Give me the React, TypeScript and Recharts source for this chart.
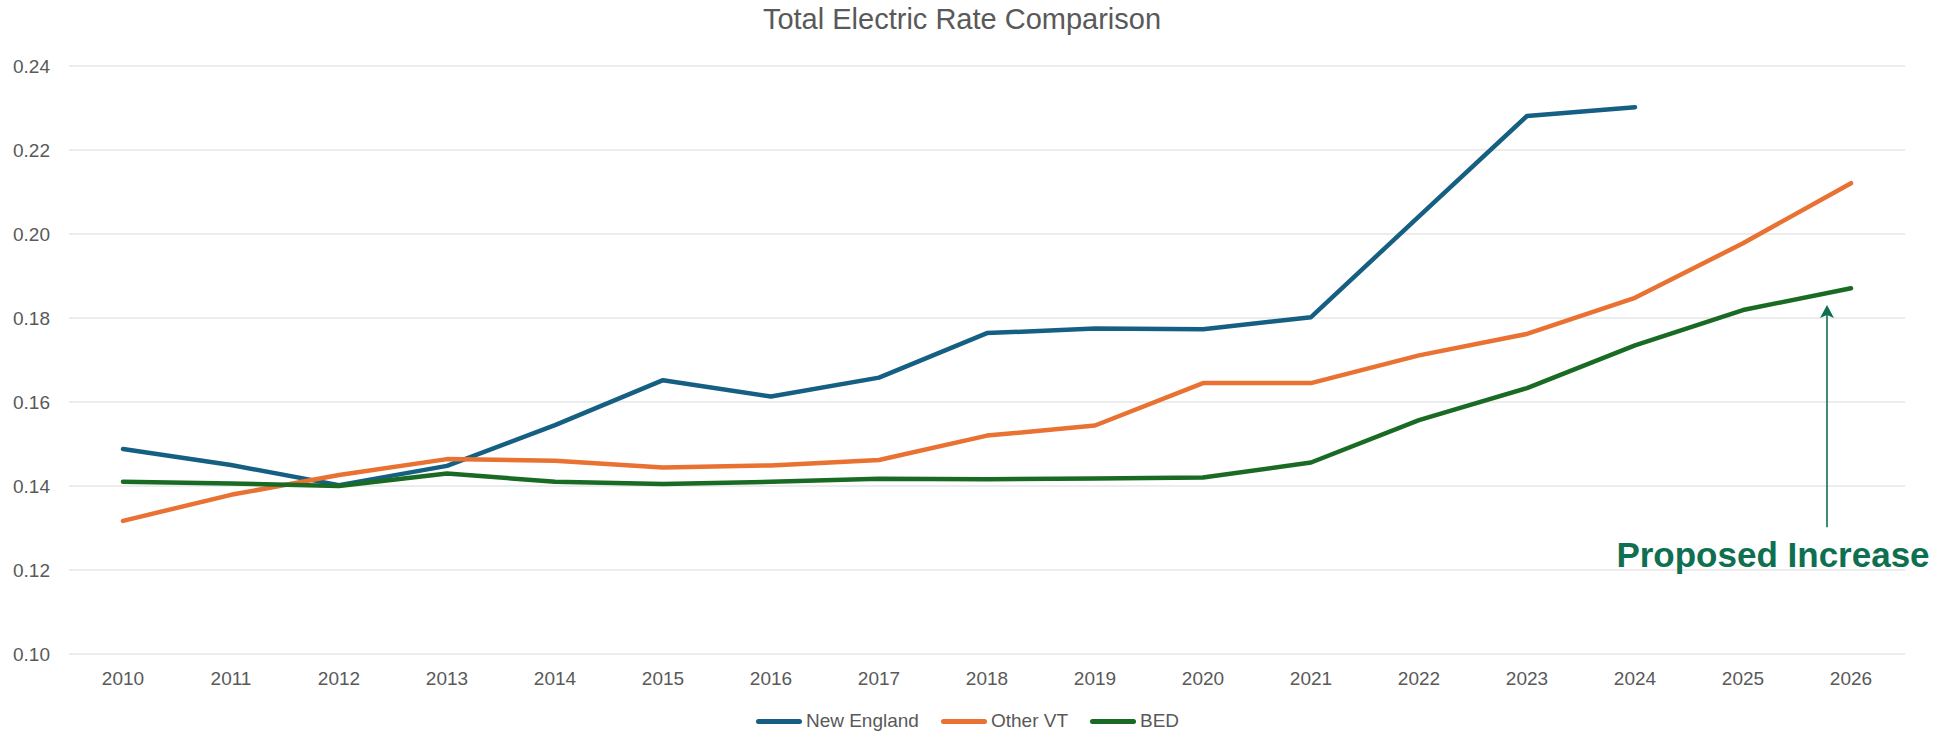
import React from "react";
import {
  LineChart,
  Line,
  XAxis,
  YAxis,
  CartesianGrid,
  Legend,
  ReferenceLine,
} from "recharts";

const years = [
  "2010", "2011", "2012", "2013", "2014", "2015", "2016", "2017", "2018",
  "2019", "2020", "2021", "2022", "2023", "2024", "2025", "2026",
];
const newEngland = [
  0.1488, 0.145, 0.1402, 0.1448, 0.1545, 0.1652, 0.1613, 0.1658, 0.1764,
  0.1775, 0.1773, 0.1802, 0.2042, 0.2281, 0.2302, null, null,
];
const otherVT = [
  0.1317, 0.1379, 0.1426, 0.1464, 0.146, 0.1444, 0.1449, 0.1462, 0.152,
  0.1544, 0.1645, 0.1645, 0.1711, 0.1762, 0.1848, 0.1978, 0.2121,
];
const bed = [
  0.141, 0.1406, 0.14, 0.143, 0.141, 0.1405, 0.141, 0.1417, 0.1416,
  0.1418, 0.142, 0.1456, 0.1557, 0.1633, 0.1735, 0.1819, 0.1871,
];
const yTicks = [0.1, 0.12, 0.14, 0.16, 0.18, 0.2, 0.22, 0.24];

const series = [
  { key: "ne", name: "New England", color: "#156082" },
  { key: "vt", name: "Other VT", color: "#E97132" },
  { key: "bed", name: "BED", color: "#196B24" },
];

// annotation arrow, in data units
const arrowYear = "2026";
const arrowTail = 0.1302;
const arrowTip = 0.1831;

const data = years.map((year, i) => ({
  year,
  ne: newEngland[i],
  vt: otherVT[i],
  bed: bed[i],
}));

const FONT = '"Liberation Sans", Arial, sans-serif';
const TEXT = "#595959";
const NOTE = "#0E7050";

function LegendContent() {
  return (
    <div
      style={{
        display: "flex",
        justifyContent: "center",
        alignItems: "center",
        height: 24,
        paddingLeft: 30,
        fontFamily: FONT,
      }}
    >
      {series.map((s, i) => (
        <div
          key={s.key}
          style={{ display: "flex", alignItems: "center", marginLeft: i ? 22 : 0 }}
        >
          <span
            style={{
              display: "inline-block",
              width: 46,
              height: 5,
              borderRadius: 3,
              background: s.color,
              marginRight: 4,
            }}
          />
          <span style={{ fontSize: 19, color: TEXT, lineHeight: "24px" }}>{s.name}</span>
        </div>
      ))}
    </div>
  );
}

function ProposedArrow(props: any) {
  const { x1, y1, x2, y2 } = props;
  const x = Math.min(x1, x2) - 24;
  const top = Math.min(y1, y2);
  const bottom = Math.max(y1, y2);
  return (
    <g>
      <line x1={x} y1={top + 9} x2={x} y2={bottom} stroke={NOTE} strokeWidth={1.6} />
      <path
        d={`M${x},${top} L${x + 7},${top + 13} L${x},${top + 10} L${x - 7},${top + 13} Z`}
        fill={NOTE}
      />
      <text
        x={x - 54}
        y={bottom + 40}
        textAnchor="middle"
        fontSize={35}
        fontWeight={700}
        fontFamily={FONT}
        fill={NOTE}
      >
        Proposed Increase
      </text>
    </g>
  );
}

export default function App() {
  return (
    <div
      style={{
        position: "absolute",
        left: 0,
        top: 0,
        width: 1956,
        height: 735,
        background: "#fff",
        fontFamily: FONT,
      }}
    >
      <div
        style={{
          position: "absolute",
          top: 5,
          left: 0,
          width: 1924,
          textAlign: "center",
          fontSize: 29,
          lineHeight: "29px",
          color: TEXT,
        }}
      >
        Total Electric Rate Comparison
      </div>
      <LineChart
        width={1956}
        height={735}
        data={data}
        margin={{ top: 66, right: 51, bottom: 2, left: 0 }}
      >
        <CartesianGrid vertical={false} stroke="#d9d9d9" strokeWidth={1} />
        <XAxis
          dataKey="year"
          axisLine={false}
          tickLine={false}
          tickSize={0}
          tickMargin={18}
          height={55}
          interval={0}
          padding={{ left: 54, right: 54 }}
          tick={{ fill: TEXT, fontSize: 19, fontFamily: FONT }}
        />
        <YAxis
          domain={[0.1, 0.24]}
          ticks={yTicks}
          axisLine={false}
          tickLine={false}
          tickSize={0}
          tickMargin={19}
          width={69}
          tickFormatter={(v) => Number(v).toFixed(2)}
          tick={{ fill: TEXT, fontSize: 19, fontFamily: FONT }}
        />
        <Legend verticalAlign="bottom" content={<LegendContent />} />
        {series.map((s) => (
          <Line
            key={s.key}
            name={s.name}
            dataKey={s.key}
            stroke={s.color}
            strokeWidth={4.5}
            strokeLinecap="round"
            strokeLinejoin="round"
            dot={false}
            activeDot={false}
            isAnimationActive={false}
          />
        ))}
        <ReferenceLine
          position="middle"
          segment={[
            { x: arrowYear, y: arrowTail },
            { x: arrowYear, y: arrowTip },
          ]}
          shape={ProposedArrow}
        />
      </LineChart>
    </div>
  );
}
